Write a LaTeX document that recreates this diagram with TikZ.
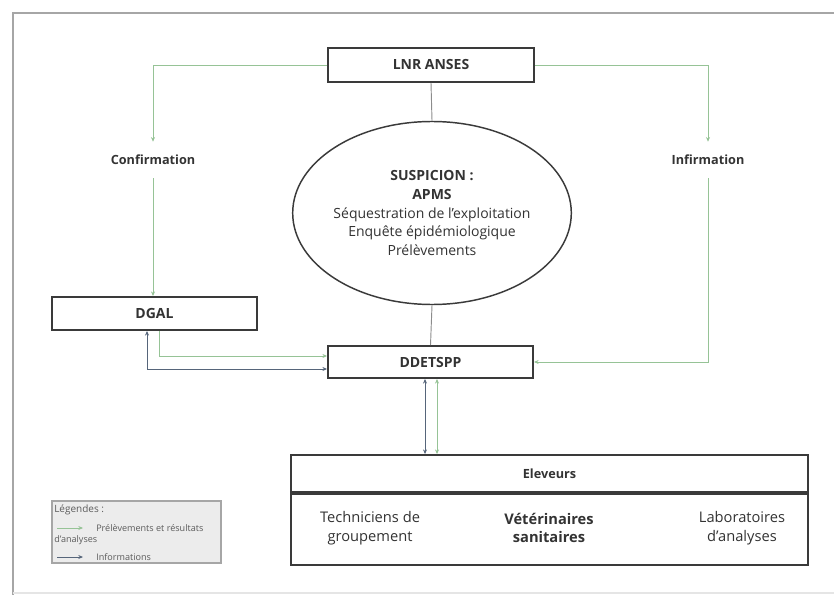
\documentclass[tikz,border=0pt]{standalone}
\usepackage{fontspec}
\setmainfont{Open Sans}
\usepackage{xcolor}
\usepackage{tikz}
\usetikzlibrary{calc}
\usetikzlibrary{shapes.geometric}
\usetikzlibrary{arrows.meta}
\definecolor{boxgray}{HTML}{3A3A3A}
\definecolor{vert}{RGB}{150,195,150}
\definecolor{infobleu}{HTML}{56657A}
\definecolor{trait}{HTML}{8C8C8C}
\definecolor{texte}{HTML}{333333}
\tikzstyle{orgbox} = [draw=boxgray, fill=white, line width=1.4pt,
rectangle, inner sep=0pt, text=texte, font=\bfseries\fontsize{10.5}{12}\selectfont]
\tikzstyle{steplabel} = [text=texte, minimum height=27pt, inner sep=0pt,
font=\bfseries\fontsize{9.5}{11}\selectfont]
\tikzstyle{prelev} = [draw=vert, line width=0.7pt, -{Stealth[length=3.5pt,width=3pt]}]
\tikzstyle{infos} = [draw=infobleu, line width=0.7pt, -{Stealth[length=3.5pt,width=3pt]}]
\tikzstyle{legtext} = [anchor=west, inner sep=0pt, text=texte!80, font=\fontsize{6.8}{8}\selectfont]

\begin{document}
\begin{tikzpicture}[x=0.75pt,y=-0.75pt]
        \useasboundingbox (0,0) rectangle (834,595);
        % cadre
        \draw[gray!70, line width=1.5pt] (834,13) -- (13,13) -- (13,595);
        \draw[gray!20, line width=1pt] (13,593) -- (834,593);
        % acteurs
        \node[orgbox, minimum width=154.5pt, minimum height=25.5pt] (lnr) at (431,65) {LNR ANSES};
        \node[ellipse, draw=boxgray, line width=1.1pt, fill=white, minimum width=190.5pt, minimum height=137.25pt,
            inner sep=0pt, align=center, text=texte, font=\fontsize{10.5}{14}\selectfont] (suspicion) at (432,213)
            {\textbf{SUSPICION :}\\\textbf{APMS}\\Séquestration de l'exploitation\\Enquête épidémiologique\\Prélèvements};
        \node[orgbox, minimum width=153.75pt, minimum height=24.75pt] (dgal) at (154.5,313.5) {DGAL};
        \node[orgbox, minimum width=153.75pt, minimum height=24pt] (ddetspp) at (430.5,362) {DDETSPP};
        \node[orgbox, minimum width=387.75pt, minimum height=27.75pt,
            font=\bfseries\fontsize{9.5}{11}\selectfont] (eleveurs) at (549.5,473.5) {Eleveurs};
        \node[orgbox, minimum width=387.75pt, minimum height=53.25pt, anchor=north] (acteurs) at (eleveurs.south) {};
        \node[align=center, text=texte, font=\fontsize{11}{14}\selectfont] (techniciens) at (370,528) {Techniciens de\\groupement};
        \node[align=center, text=texte, font=\bfseries\fontsize{11}{14}\selectfont] (veterinaires) at (549,528) {Vétérinaires\\sanitaires};
        \node[align=center, text=texte, font=\fontsize{11}{14}\selectfont] (laboratoires) at (742,528) {Laboratoires\\d'analyses};
        \node[steplabel] (confirmation) at (153,160) {Confirmation};
        \node[steplabel] (infirmation) at (708,160) {Infirmation};
        % liaisons
        \draw[prelev] (lnr.west) -| (confirmation.north);
        \draw[prelev] (confirmation.south) -- (confirmation.south |- dgal.north);
        \draw[prelev] (lnr.east) -| (infirmation.north);
        \draw[prelev] (infirmation.south) |- (ddetspp.east);
        \draw[trait, line width=0.7pt] (lnr.south) -- (suspicion.north);
        \draw[trait, line width=0.7pt] (suspicion.south) -- (ddetspp.north);
        \coordinate (dg1) at ($(dgal.south)+(4.5,0)$);
        \coordinate (dg2) at ($(dgal.south)+(-7.5,0)$);
        \draw[prelev] (dg1) |- ($(ddetspp.west)+(0,-6)$);
        \draw[infos, {Stealth[length=3.5pt,width=3pt]}-{Stealth[length=3.5pt,width=3pt]}] (dg2) |- ($(ddetspp.west)+(0,7)$);
        \coordinate (dd1) at ($(ddetspp.south)+(-5.5,0)$);
        \coordinate (dd2) at ($(ddetspp.south)+(6.5,0)$);
        \draw[infos, {Stealth[length=3.5pt,width=3pt]}-{Stealth[length=3.5pt,width=3pt]}] (dd1) -- (dd1 |- eleveurs.north);
        \draw[prelev, {Stealth[length=3.5pt,width=3pt]}-{Stealth[length=3.5pt,width=3pt]}] (dd2) -- (dd2 |- eleveurs.north);
        % legende
        \node[draw=gray!70, fill=gray!15, line width=0.8pt, minimum width=126.75pt, minimum height=46.5pt,
            inner sep=0pt] (legende) at (136.5,532) {};
        \node[legtext, font=\fontsize{7.5}{9}\selectfont] (legtitre) at (54,510) {Légendes :};
        \coordinate (p1) at (57,528);
        \coordinate (p2) at (83,528);
        \draw[prelev] (p1) -- (p2);
        \node[legtext] (legprelev) at (96,528) {Prélèvements et résultats};
        \node[legtext] (leganalyses) at (54,540) {d'analyses};
        \coordinate (i1) at (57,557);
        \coordinate (i2) at (83,557);
        \draw[infos] (i1) -- (i2);
        \node[legtext] (leginfo) at (96,557) {Informations};
    \end{tikzpicture}
\end{document}
